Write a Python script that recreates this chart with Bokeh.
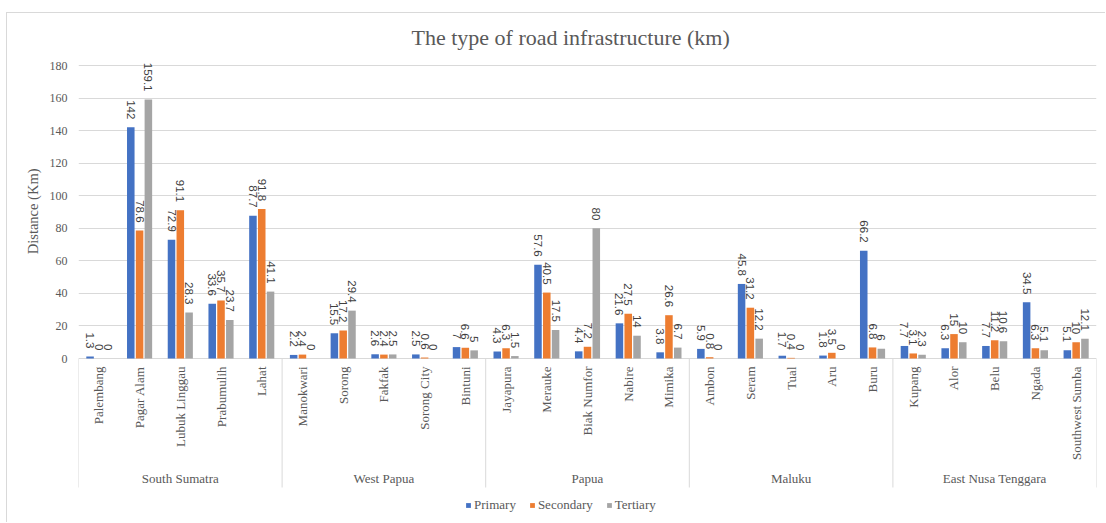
import math

from bokeh.core.properties import value
from bokeh.embed import file_html
from bokeh.models import (ColumnDataSource, FactorRange, FixedTicker, Legend,
                          LegendItem, Range1d, Title)
from bokeh.plotting import figure
from bokeh.resources import INLINE
from bokeh.transform import dodge

# ---- data -------------------------------------------------------------
regions = ["South Sumatra", "West Papua", "Papua", "Maluku", "East Nusa Tenggara"]
cities = [
    ["Palembang", "Pagar Alam", "Lubuk Linggau", "Prabumulih", "Lahat"],
    ["Manokwari", "Sorong", "Fakfak", "Sorong City", "Bintuni"],
    ["Jayapura", "Merauke", "Biak Numfor", "Nabire", "Mimika"],
    ["Ambon", "Seram", "Tual", "Aru", "Buru"],
    ["Kupang", "Alor", "Belu", "Ngada", "Southwest Sumba"],
]
primary = [1.3, 142, 72.9, 33.6, 87.7,
           2.2, 15.5, 2.6, 2.5, 7,
           4.3, 57.6, 4.4, 21.6, 3.8,
           5.9, 45.8, 1.7, 1.8, 66.2,
           7.7, 6.3, 7.7, 34.5, 5.1]
secondary = [0, 78.6, 91.1, 35.7, 91.8,
             2.4, 17.2, 2.4, 0.6, 6.6,
             6.3, 40.5, 7.2, 27.5, 26.6,
             0.8, 31.2, 0.4, 3.5, 6.8,
             3.1, 15, 11.2, 6.3, 10]
tertiary = [0, 159.1, 28.3, 23.7, 41.1,
            0, 29.4, 2.5, 0, 5,
            1.5, 17.5, 80, 14, 6.7,
            0, 12.2, 0, 0, 6,
            2.3, 10, 10.6, 5.1, 12.1]
series_names = ["Primary", "Secondary", "Tertiary"]
y_ticks = [0, 20, 40, 60, 80, 100, 120, 140, 160, 180]
title_text = "The type of  road infrastructure  (km)"
y_title = "Distance (Km)"

# ---- layout constants (pixels) ----------------------------------------
W, H = 1099, 510
FRAME_L, FRAME_R, FRAME_T = 71, 10, 42
Y0_PX, Y180_PX = 345, 52           # screen rows of value 0 and value 180
PPU = (Y0_PX - Y180_PX) / 180.0    # pixels per km

def px_to_y(py):
    return (Y0_PX - py) / PPU

SERIF = "Liberation Serif"
SANS = "Liberation Sans"
GREY_TXT = "#595959"
colors = ["#4472C4", "#ED7D31", "#A5A5A5"]

factors = [(r, c) for r, cs in zip(regions, cities) for c in cs]

fmt = lambda v: f"{v:g}"
src = ColumnDataSource(dict(
    x=factors,
    primary=primary, secondary=secondary, tertiary=tertiary,
    primary_lbl=[fmt(v) for v in primary],
    secondary_lbl=[fmt(v) for v in secondary],
    tertiary_lbl=[fmt(v) for v in tertiary],
))

p = figure(
    width=W, height=H,
    x_range=FactorRange(factors=factors, factor_padding=0, group_padding=0,
                        subgroup_padding=0, range_padding=0),
    y_range=Range1d(px_to_y(H), px_to_y(FRAME_T)),
    x_axis_location=None,
    output_backend="svg", toolbar_location=None,
    min_border_left=FRAME_L, min_border_right=FRAME_R,
    min_border_top=FRAME_T, min_border_bottom=0,
)
p.styles = {"margin-left": "6px", "margin-top": "12px",
            "border-left": "1px solid #D9D9D9", "border-top": "1px solid #D9D9D9"}
p.outline_line_color = None
p.background_fill_color = "white"
p.border_fill_color = "white"

# chart title
p.title.text = title_text
p.title.align = "left"
p.title.offset = 333
p.title.vertical_align = "middle"
p.title.text_font = SERIF
p.title.text_font_size = "22px"
p.title.text_font_style = "normal"
p.title.text_color = GREY_TXT

# y axis: labels only, gridlines at the fixed ticks
p.yaxis.ticker = FixedTicker(ticks=y_ticks)
p.yaxis.axis_line_color = None
p.yaxis.major_tick_line_color = None
p.yaxis.minor_tick_line_color = None
p.yaxis.major_tick_out = 0
p.yaxis.major_label_standoff = 11
p.yaxis.major_label_text_font = SERIF
p.yaxis.major_label_text_font_size = "12px"
p.yaxis.major_label_text_color = GREY_TXT
p.ygrid.grid_line_color = "#D9D9D9"
p.ygrid.grid_line_width = 1
p.xgrid.grid_line_color = None

# y-axis title, aligned to the 0-180 value span
p.add_layout(Title(text=y_title, align="right", offset=113, vertical_align="middle",
                   text_font=SERIF, text_font_size="14.5px", text_font_style="normal",
                   text_color=GREY_TXT), "left")

# bars and their value labels
offsets = [-0.216, 0.0, 0.216]
fields = ["primary", "secondary", "tertiary"]
renderers = []
for name, field, off, col in zip(series_names, fields, offsets, colors):
    r = p.vbar(x=dodge("x", off, range=p.x_range), top=field, bottom=0,
               width=0.185, source=src, fill_color=col, line_color=None)
    renderers.append(r)
    p.text(x=dodge("x", off, range=p.x_range), y=field, text=field + "_lbl",
           source=src, angle=-math.pi / 2, text_align="right",
           text_baseline="middle", y_offset=-8,
           text_font=value(SANS), text_font_size="11.5px", text_color="#404040")

# category labels (cities, vertical) and region labels
p.text(x=factors, y=[px_to_y(Y0_PX + 8)] * len(factors),
       text=[c for _, c in factors], angle=math.pi / 2,
       text_align="right", text_baseline="middle",
       text_font=value(SERIF), text_font_size="13px", text_color=GREY_TXT)

group_x = [(r, cs[0], len(cs) / 2 - 0.5) for r, cs in zip(regions, cities)]
p.text(x=group_x, y=[px_to_y(Y0_PX + 120)] * len(regions), text=regions,
       text_align="center", text_baseline="middle",
       text_font=value(SERIF), text_font_size="13px", text_color=GREY_TXT)

# separators between region groups
sep_x = [(r, cs[0], -0.5) for r, cs in zip(regions, cities)]
sep_x.append((regions[-1], cities[-1][-1], 0.5))
p.segment(x0=sep_x, y0=[0] * len(sep_x), x1=sep_x,
          y1=[px_to_y(Y0_PX + 129)] * len(sep_x),
          line_color="#D9D9D9", line_width=1)

legend = Legend(
    items=[LegendItem(label=n, renderers=[r]) for n, r in zip(series_names, renderers)],
    orientation="horizontal", location=(387, 10),
    glyph_width=6, glyph_height=6, label_standoff=3, spacing=13,
    padding=0, margin=0, border_line_color=None, background_fill_alpha=0,
    label_text_font=SERIF, label_text_font_size="13px", label_text_color=GREY_TXT,
)
p.add_layout(legend)

open("out.html", "w").write(file_html(p, INLINE))
